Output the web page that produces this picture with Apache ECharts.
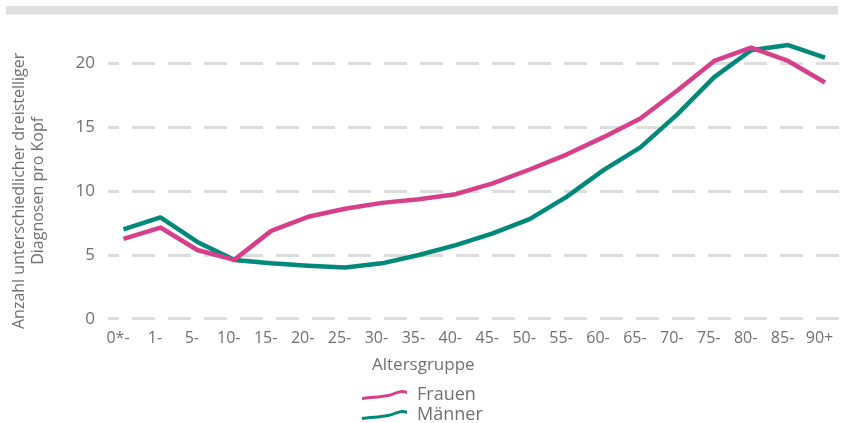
<!DOCTYPE html>
<html>
<head>
<meta charset="utf-8">
<script src="https://cdn.jsdelivr.net/npm/echarts@6/dist/echarts.min.js"></script>
<style>
html,body{margin:0;padding:0;background:#fff;}
#chart{width:841px;height:423px;}
</style>
</head>
<body>
<div id="chart"></div>
<script>
var categories = ['0*-','1-','5-','10-','15-','20-','25-','30-','35-','40-','45-','50-','55-','60-','65-','70-','75-','80-','85-','90+'];
var frauen  = [6.25, 7.13, 5.37, 4.6, 6.87, 7.97, 8.6, 9.06, 9.35, 9.74, 10.58, 11.67, 12.84, 14.2, 15.66, 17.85, 20.16, 21.2, 20.16, 18.47];
var maenner = [6.98, 7.92, 6.0, 4.6, 4.33, 4.14, 4.01, 4.33, 4.98, 5.76, 6.67, 7.79, 9.53, 11.62, 13.4, 15.98, 18.9, 21.0, 21.4, 20.42];
var yTicks = {min: 0, max: 20, interval: 5};

var FONT = '"Open Sans", sans-serif';
var TXT = '#707070';
var PINK = '#d6408a';
var TEAL = '#00897a';

var chart = echarts.init(document.getElementById('chart'), null, {renderer: 'canvas'});
chart.setOption({
  animation: false,
  backgroundColor: '#ffffff',
  textStyle: {fontFamily: FONT},
  graphic: [
    {type: 'rect', left: 6, top: 6, shape: {width: 832, height: 8.5}, style: {fill: '#dedede'}, silent: true},
    {type: 'text', left: 372, top: 357, style: {text: 'Altersgruppe', font: '17px ' + FONT, fill: TXT}, silent: true}
  ],
  grid: [
    {left: 108, right: 0, top: 63, bottom: 104.3, containLabel: false, outerBoundsMode: 'none'},
    {left: 123.5, right: 16, top: 63, bottom: 104.3, containLabel: false, outerBoundsMode: 'none'}
  ],
  xAxis: [
    {gridIndex: 0, type: 'value', min: 0, max: 1, show: false},
    {gridIndex: 1, type: 'category', data: categories, boundaryGap: false,
      axisLine: {show: false}, axisTick: {show: false}, splitLine: {show: false},
      axisLabel: {color: TXT, fontSize: 16, fontFamily: FONT, margin: 12, padding: [0, 11, 0, 0], interval: 0}
    }
  ],
  yAxis: [
    {gridIndex: 0, type: 'value', min: yTicks.min, max: yTicks.max, interval: yTicks.interval,
      axisLine: {show: false}, axisTick: {show: false},
      axisLabel: {color: TXT, fontSize: 17, fontFamily: FONT, margin: 13},
      splitLine: {show: true, lineStyle: {color: '#dddddd', width: 3, type: [23, 13], dashOffset: 12}},
      name: 'Anzahl unterschiedlicher dreistelliger\nDiagnosen pro Kopf',
      nameLocation: 'middle', nameRotate: 90, nameGap: 60, nameMoveOverlap: false,
      nameTextStyle: {color: TXT, fontSize: 16, fontFamily: FONT, lineHeight: 19, align: 'center'}
    },
    {gridIndex: 1, type: 'value', min: yTicks.min, max: yTicks.max, interval: yTicks.interval, show: false,
      splitLine: {show: false}}
  ],
  legend: {
    data: ['Frauen', 'Männer'],
    orient: 'vertical', left: 357, top: 381, height: 80,
    itemWidth: 45, itemHeight: 12, itemGap: 2,
    textStyle: {color: TXT, fontSize: 18, lineHeight: 18, fontFamily: FONT, padding: [0, 0, 0, 5]},
    icon: 'path://M0,9 C12,7 20,8 30,5 C36,3 40,1 45,3 L45,6 C40,4 36,6 30,8 C20,11 12,10 0,12 Z'
  },
  series: [
    {name: 'Männer', type: 'line', xAxisIndex: 1, yAxisIndex: 1, data: maenner, clip: false,
      showSymbol: false, symbol: 'none', color: TEAL,
      lineStyle: {color: TEAL, width: 4.5, join: 'round', cap: 'butt'}},
    {name: 'Frauen', type: 'line', xAxisIndex: 1, yAxisIndex: 1, data: frauen, clip: false,
      showSymbol: false, symbol: 'none', color: PINK,
      lineStyle: {color: PINK, width: 4.5, join: 'round', cap: 'butt'}}
  ]
});
</script>
</body>
</html>
